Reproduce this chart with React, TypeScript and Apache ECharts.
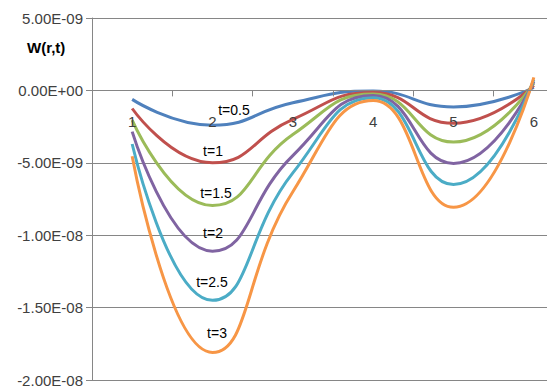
import React, { useEffect, useRef } from "react";
import * as echarts from "echarts";

const categories = ["1", "2", "3", "4", "5", "6"];
const seriesNames = ["t=0.5", "t=1", "t=1.5", "t=2", "t=2.5", "t=3"];
const t05 = [-0.62e-9, -2.4e-9, -0.85e-9, -0.05e-9, -1.14e-9, 0.2e-9];
const t1 = [-1.25e-9, -5.0e-9, -2.0e-9, -0.15e-9, -2.27e-9, 0.35e-9];
const t15 = [-2.05e-9, -7.95e-9, -3.05e-9, -0.25e-9, -3.57e-9, 0.5e-9];
const t2 = [-2.85e-9, -11.1e-9, -4.5e-9, -0.35e-9, -5.04e-9, 0.6e-9];
const t25 = [-3.7e-9, -14.5e-9, -5.7e-9, -0.5e-9, -6.5e-9, 0.75e-9];
const t3 = [-4.55e-9, -18.1e-9, -7.0e-9, -0.7e-9, -8.07e-9, 0.9e-9];
const allSeries = [t05, t1, t15, t2, t25, t3];
const colors = ["#4F81BD", "#C0504D", "#9BBB59", "#8064A2", "#4BACC6", "#F79646"];
const yMin = -2e-8;
const yMax = 5e-9;
const yInterval = 5e-9;
const yTitle = "W(r,t)";
// label positions (pixels)
const labelPos = [
  [234, 110],
  [213, 151],
  [216, 193],
  [213, 233],
  [212, 282],
  [217, 333],
];

const W = 547;
const H = 387;
const GRID_TOP = 18;
const GRID_BOTTOM = 7;
const PLOT_H = H - GRID_TOP - GRID_BOTTOM;
// x axis sits at y = 0: offset it up from the bottom of the plot
const X_OFFSET = -(PLOT_H * (0 - yMin)) / (yMax - yMin);

function fmt(v: number): string {
  if (Math.abs(v) < 1e-20) return "0.00E+00";
  const s = v.toExponential(2);
  const [m, e] = s.split("e");
  const sign = e[0] === "-" ? "-" : "+";
  const digits = e.replace(/[+-]/, "").padStart(2, "0");
  return `${m}E${sign}${digits}`;
}

export default function App() {
  const ref = useRef<HTMLDivElement>(null);
  useEffect(() => {
    if (!ref.current) return;
    const chart = echarts.init(ref.current, undefined, { renderer: "svg" });
    const font = "'Liberation Sans', Arial, sans-serif";
    chart.setOption({
      animation: false,
      backgroundColor: "#ffffff",
      grid: {
        left: 92,
        top: GRID_TOP,
        right: -27,
        bottom: GRID_BOTTOM,
        containLabel: false,
        outerBoundsMode: "none",
      },
      xAxis: {
        type: "category",
        data: categories,
        boundaryGap: true,
        position: "bottom",
        offset: X_OFFSET,
        z: 5,
        axisLine: { show: true, onZero: false, lineStyle: { color: "#868686", width: 1 } },
        axisTick: { show: true, length: 6, lineStyle: { color: "#868686" } },
        axisLabel: { margin: 24, fontSize: 15, color: "#404040", fontFamily: font },
        splitLine: { show: false },
      },
      yAxis: {
        type: "value",
        min: yMin,
        max: yMax,
        interval: yInterval,
        axisLine: { show: true, lineStyle: { color: "#868686", width: 1 } },
        axisTick: { show: true, length: 6, lineStyle: { color: "#868686" } },
        axisLabel: {
          margin: 9,
          fontSize: 15,
          color: "#404040",
          fontFamily: font,
          formatter: (v: number) => fmt(v),
        },
        splitLine: { show: true, lineStyle: { color: "#868686", width: 1 } },
      },
      series: allSeries.map((d, i) => ({
        name: seriesNames[i],
        type: "line",
        data: d,
        smooth: 0.5,
        symbol: "none",
        lineStyle: { color: colors[i], width: 3 },
        itemStyle: { color: colors[i] },
      })),
      graphic: [
        {
          type: "text",
          left: 27,
          top: 40,
          style: {
            text: yTitle,
            font: `bold 15px ${font}`,
            fill: "#000000",
          },
        },
        ...seriesNames.map((n, i) => ({
          type: "text",
          x: labelPos[i][0],
          y: labelPos[i][1],
          z: 10,
          style: {
            text: n,
            font: `14px ${font}`,
            fill: "#000000",
            align: "center",
            verticalAlign: "middle",
          },
        })),
      ],
    });
    return () => chart.dispose();
  }, []);
  return (
    <div
      ref={ref}
      style={{ position: "fixed", left: 0, top: 0, width: W, height: H }}
    />
  );
}
